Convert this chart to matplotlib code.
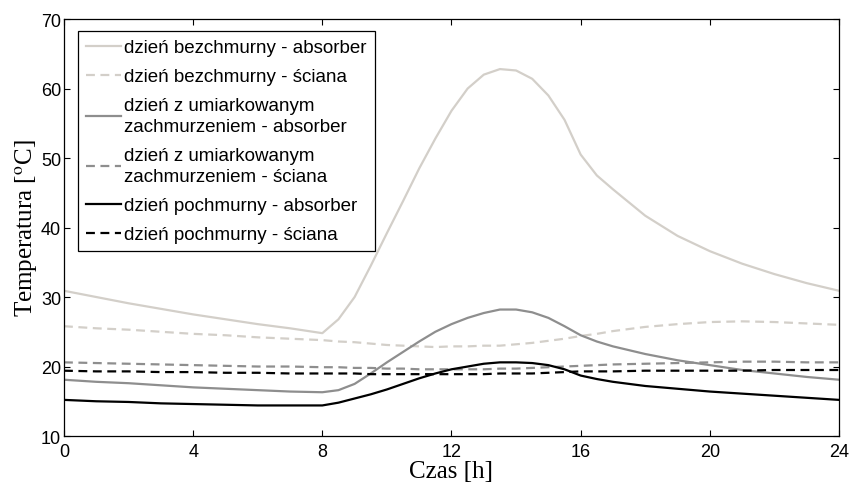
import matplotlib
matplotlib.use('Agg')
from matplotlib import pyplot as plt

# time grid [h]
hours = [0, 1, 2, 3, 4, 5, 6, 7, 8, 8.5, 9, 9.5, 10, 10.5, 11, 11.5, 12, 12.5,
         13, 13.5, 14, 14.5, 15, 15.5, 16, 16.5, 17, 18, 19, 20, 21, 22, 23, 24]

# dzień bezchmurny
clear_absorber = [30.9, 30.0, 29.1, 28.3, 27.5, 26.8, 26.1, 25.5, 24.8, 26.8, 30.0, 34.5,
                  39.2, 43.8, 48.5, 52.8, 56.8, 60.0, 62.0, 62.8, 62.6, 61.4, 59.0, 55.5,
                  50.5, 47.5, 45.5, 41.7, 38.8, 36.6, 34.8, 33.3, 32.0, 30.9]
clear_wall = [25.8, 25.5, 25.3, 25.0, 24.7, 24.5, 24.2, 24.0, 23.8, 23.6, 23.5, 23.3,
              23.1, 23.0, 22.9, 22.8, 22.9, 22.9, 23.0, 23.0, 23.2, 23.4, 23.7, 24.0,
              24.4, 24.7, 25.1, 25.7, 26.1, 26.4, 26.5, 26.4, 26.2, 26.0]
# dzień z umiarkowanym zachmurzeniem
moderate_absorber = [18.1, 17.8, 17.6, 17.3, 17.0, 16.8, 16.6, 16.4, 16.3, 16.6, 17.5, 19.0,
                     20.6, 22.1, 23.6, 25.0, 26.1, 27.0, 27.7, 28.2, 28.2, 27.8, 27.0, 25.8,
                     24.5, 23.6, 22.9, 21.8, 20.9, 20.2, 19.5, 19.0, 18.5, 18.1]
moderate_wall = [20.6, 20.5, 20.4, 20.3, 20.2, 20.1, 20.0, 20.0, 19.9, 19.9, 19.8, 19.8,
                 19.7, 19.7, 19.6, 19.6, 19.6, 19.6, 19.6, 19.7, 19.7, 19.8, 19.9, 20.0,
                 20.1, 20.2, 20.3, 20.4, 20.5, 20.6, 20.7, 20.7, 20.6, 20.6]
# dzień pochmurny
cloudy_absorber = [15.2, 15.0, 14.9, 14.7, 14.6, 14.5, 14.4, 14.4, 14.4, 14.8, 15.4, 16.0,
                   16.7, 17.5, 18.3, 19.0, 19.6, 20.0, 20.4, 20.6, 20.6, 20.5, 20.2, 19.6,
                   18.7, 18.2, 17.8, 17.2, 16.8, 16.4, 16.1, 15.8, 15.5, 15.2]
cloudy_wall = [19.4, 19.3, 19.3, 19.2, 19.2, 19.1, 19.1, 19.0, 19.0, 19.0, 19.0, 18.9,
               18.9, 18.9, 18.9, 18.9, 18.9, 18.9, 18.9, 19.0, 19.0, 19.0, 19.1, 19.2,
               19.3, 19.3, 19.3, 19.4, 19.4, 19.4, 19.4, 19.5, 19.5, 19.5]

labels = ['dzień bezchmurny - absorber',
          'dzień bezchmurny - ściana',
          'dzień z umiarkowanym\nzachmurzeniem - absorber',
          'dzień z umiarkowanym\nzachmurzeniem - ściana',
          'dzień pochmurny - absorber',
          'dzień pochmurny - ściana']

plt.rcParams['mathtext.fontset'] = 'stix'
sans = ['Liberation Sans', 'DejaVu Sans']
serif = ['Liberation Serif', 'DejaVu Serif']

fig = plt.figure(figsize=(8.53, 4.89), dpi=100)
ax = fig.add_axes([0.075, 0.1063, 0.9086, 0.8527])

light, mid = '#d3cfc9', '#8e8e8e'
dash = (0, (4, 2.5))
series = [(clear_absorber, light, '-'), (clear_wall, light, dash),
          (moderate_absorber, mid, '-'), (moderate_wall, mid, dash),
          (cloudy_absorber, 'black', '-'), (cloudy_wall, 'black', dash)]
for (vals, col, ls), lab in zip(series, labels):
    ax.plot(hours, vals, color=col, linestyle=ls, linewidth=1.6, label=lab)

ax.set_xlim(0, 24)
ax.set_ylim(10, 70)
ax.set_xticks(range(0, 25, 4))
ax.set_yticks(range(10, 71, 10))
ax.tick_params(direction='in', top=True, right=True, length=4, width=0.8,
               labelsize=13)
ax.tick_params(axis='x', pad=5)
ax.tick_params(axis='y', pad=2)
for t in ax.get_xticklabels() + ax.get_yticklabels():
    t.set_family(sans)
for s in ax.spines.values():
    s.set_linewidth(0.9)

ax.set_xlabel('Czas [h]', family=serif, fontsize=18, labelpad=0)
ax.set_ylabel('Temperatura [$^{\\mathrm{o}}$C]', family=serif, fontsize=18, labelpad=1)

leg = ax.legend(loc='upper left', bbox_to_anchor=(0.018, 0.971), frameon=True,
                fancybox=False, edgecolor='black', framealpha=1,
                prop={'family': sans, 'size': 13.5}, handlelength=1.9,
                handletextpad=0.15, labelspacing=0.64, borderpad=0.42,
                borderaxespad=0)
leg.get_frame().set_linewidth(0.9)
for t in leg.get_texts():
    t.set_linespacing(1.3)

fig.savefig('out.png', dpi=100)
